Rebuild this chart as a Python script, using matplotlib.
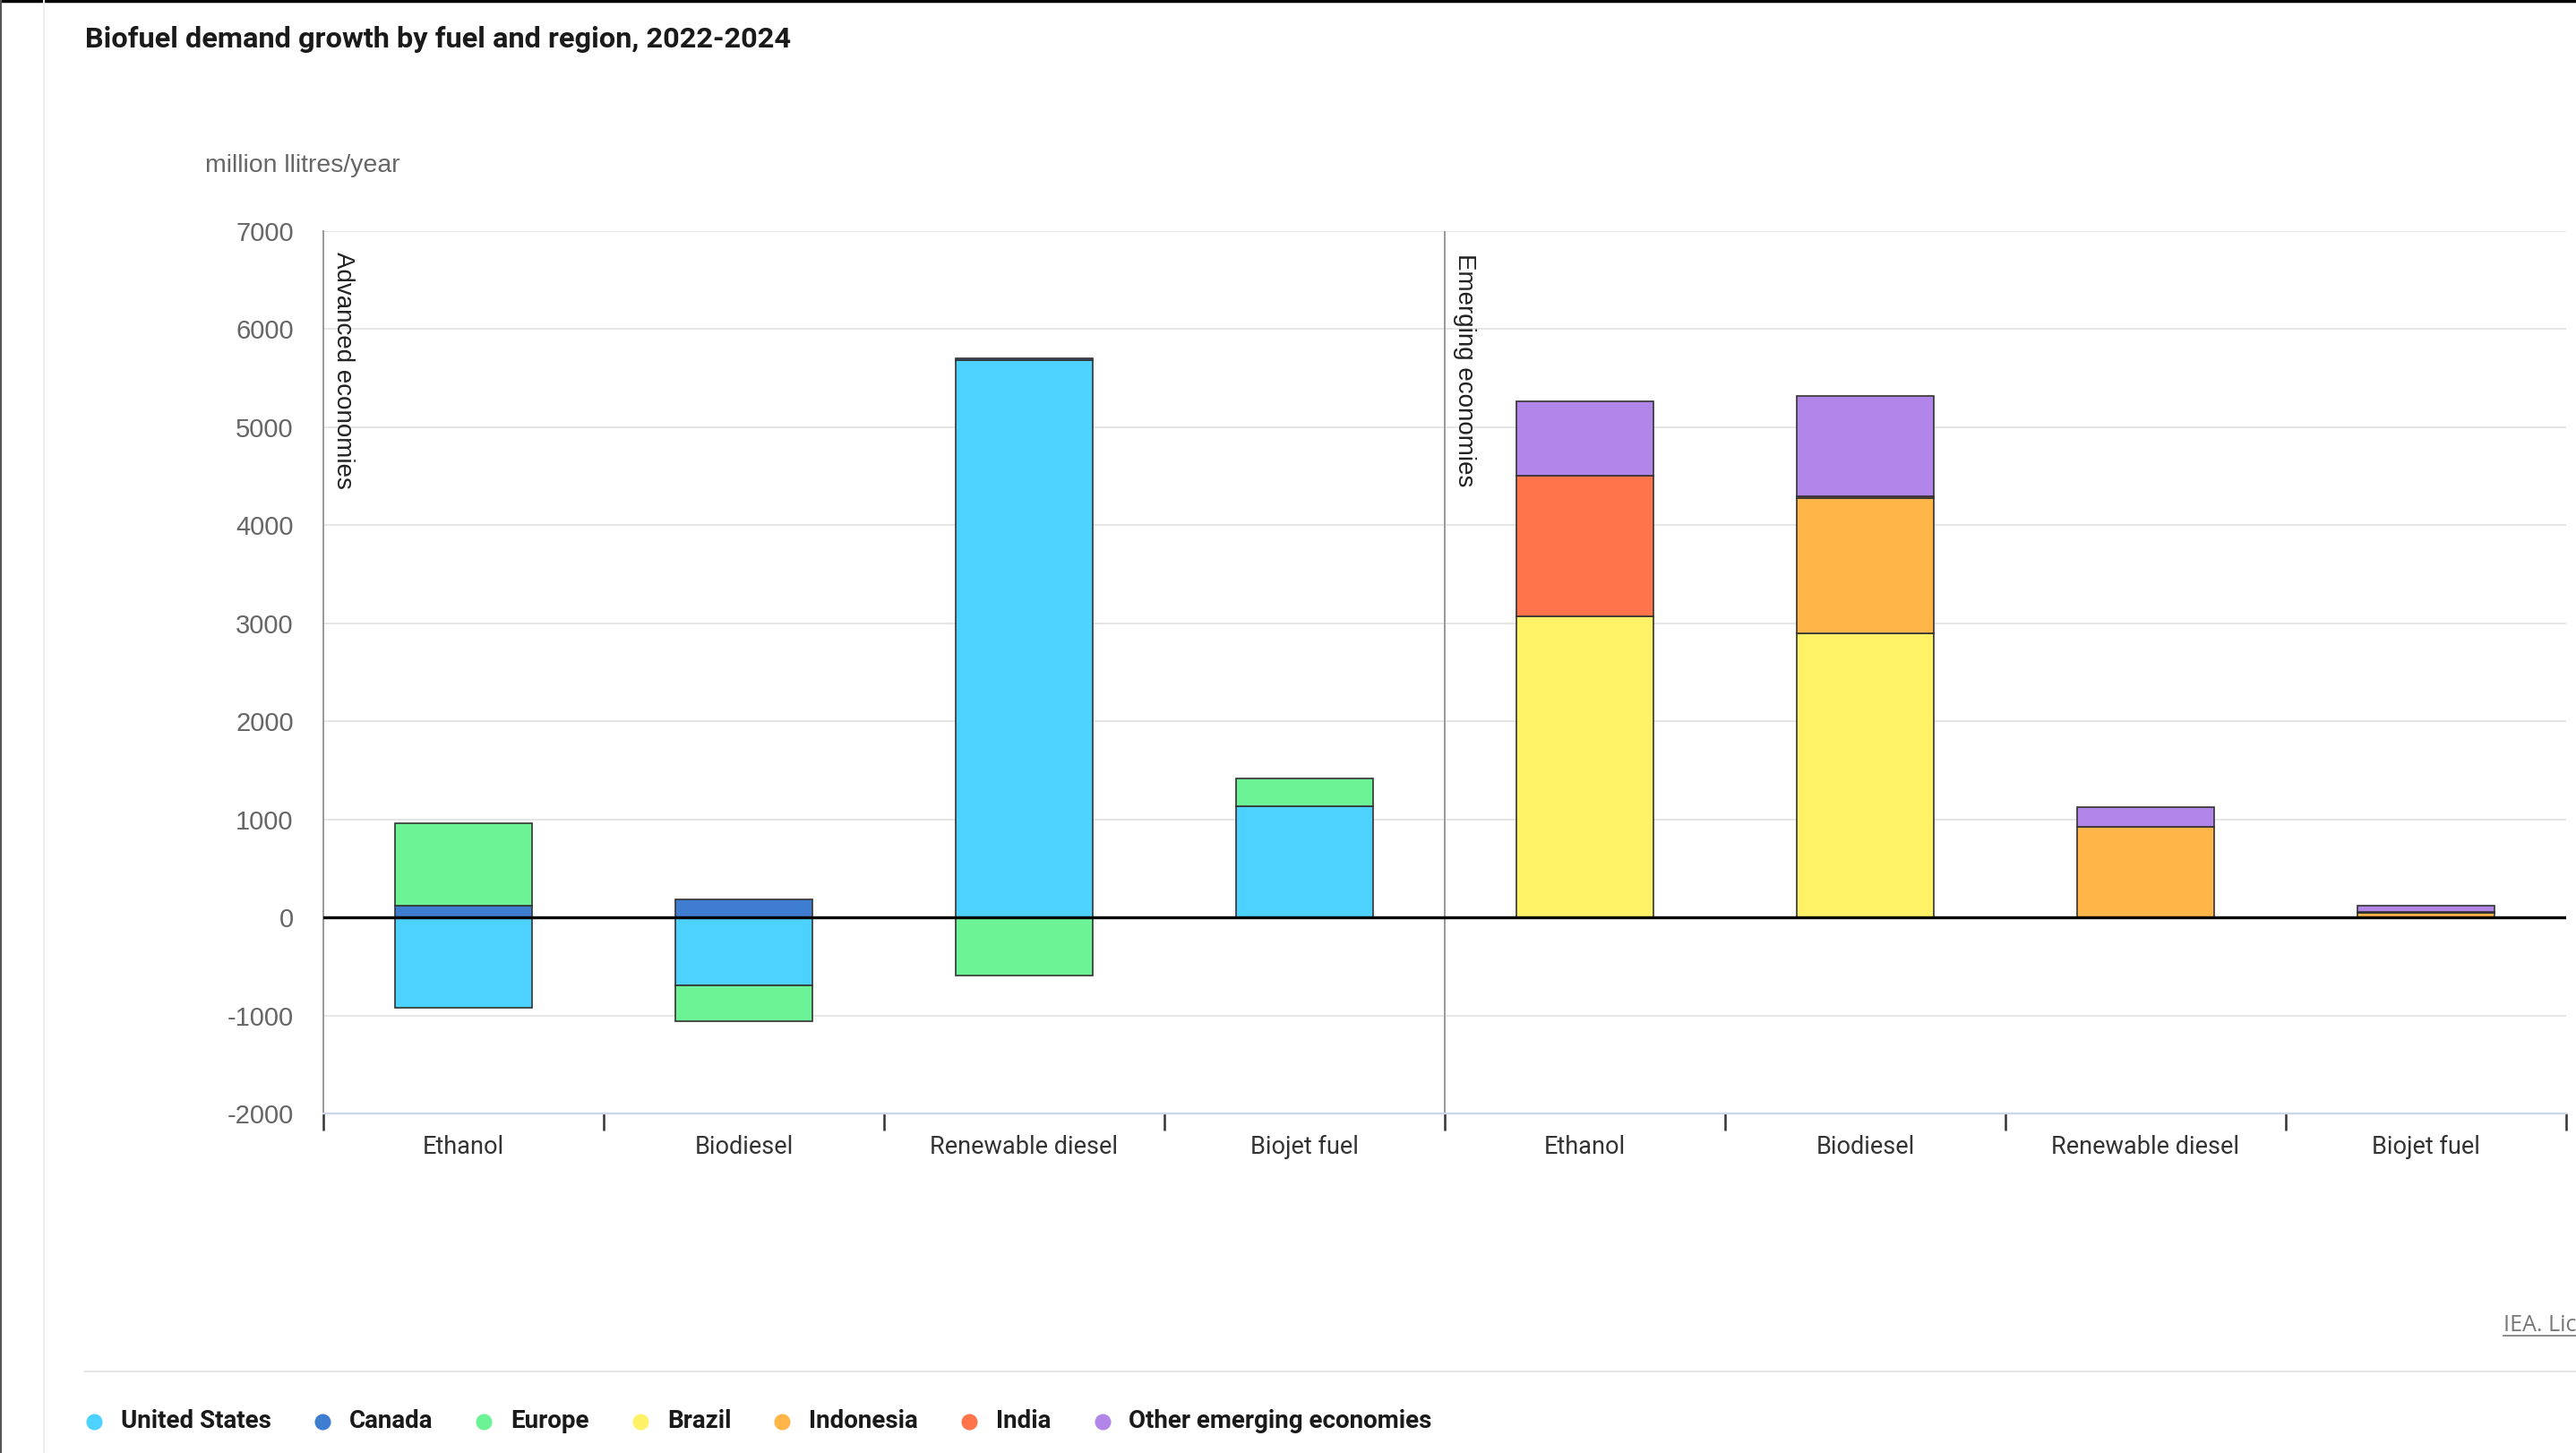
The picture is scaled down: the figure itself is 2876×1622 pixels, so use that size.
import numpy as np
import matplotlib
matplotlib.use('Agg')
import matplotlib.pyplot as plt
from matplotlib.lines import Line2D

# data (million litres/year)
categories = ["Ethanol", "Biodiesel", "Renewable diesel", "Biojet fuel",
              "Ethanol", "Biodiesel", "Renewable diesel", "Biojet fuel"]
united_states = [-920, -690, 5680, 1130, 0, 0, 0, 0]
canada = [120, 180, 20, 0, 0, 0, 0, 0]
europe = [840, -370, -590, 285, 0, 0, 0, 0]
brazil = [0, 0, 0, 0, 3070, 2900, 0, 0]
indonesia = [0, 0, 0, 0, 0, 1380, 920, 50]
india = [0, 0, 0, 0, 1440, 20, 0, 5]
other_emerging = [0, 0, 0, 0, 750, 1020, 205, 65]

series_names = ["United States", "Canada", "Europe", "Brazil", "Indonesia",
                "India", "Other emerging economies"]
series_values = [united_states, canada, europe, brazil, indonesia, india, other_emerging]
colors = ["#4dd2ff", "#3f7dd0", "#6bf396", "#fff266", "#ffb547", "#ff744b", "#b286e8"]

W, H, DPI = 2876, 1622, 100


def fx(px):
    return px / W


def fy(py):
    return 1 - py / H


fig = plt.figure(figsize=(W / DPI, H / DPI), dpi=DPI)
fig.patch.set_facecolor('white')

ax = fig.add_axes([fx(361), fy(1243), (2865 - 361) / W, (1243 - 258) / H])
ax.set_xlim(-0.5, 7.5)
ax.set_ylim(-2000, 7000)

x = np.arange(len(categories))
pos = np.zeros(len(categories))
neg = np.zeros(len(categories))
for vals, color in zip(series_values, colors):
    vals = np.array(vals, dtype=float)
    bottom = np.where(vals >= 0, pos, neg)
    mask = vals != 0
    ax.bar(x[mask], vals[mask], bottom=bottom[mask], width=0.49, color=color,
           edgecolor='#333333', linewidth=1.2, zorder=2)
    pos += np.clip(vals, 0, None)
    neg += np.clip(vals, None, 0)

# axes styling
ax.set_yticks(range(-2000, 7001, 1000))
ax.set_yticklabels([str(v) for v in range(-2000, 7001, 1000)])
ax.tick_params(axis='y', length=0, pad=24, labelsize=21, labelcolor='#666666')
for lab in ax.get_yticklabels():
    lab.set_fontfamily('Liberation Sans')

ax.set_xticks(x)
ax.set_xticklabels(categories)
ax.tick_params(axis='x', which='major', length=0, pad=17, labelsize=19.5, labelcolor='#333333')
for lab in ax.get_xticklabels():
    lab.set_fontfamily('Roboto')
ax.set_xticks(np.arange(-0.5, 8, 1), minor=True)
ax.tick_params(axis='x', which='minor', length=13.7, width=1.8, color='#333333', direction='out')

ax.yaxis.grid(True, color='#e6e6e6', linewidth=1.4)
ax.set_axisbelow(True)
for s in ['top', 'right']:
    ax.spines[s].set_visible(False)
ax.spines['left'].set_color('#999999')
ax.spines['left'].set_linewidth(1.4)
ax.spines['bottom'].set_color('#ccd6eb')
ax.spines['bottom'].set_linewidth(1.6)

ax.axhline(0, color='black', linewidth=2.4, zorder=4)
ax.axvline(3.5, color='#999999', linewidth=1.4, zorder=1)

ax.text(-0.47, 6790, "Advanced economies", rotation=270, ha='left', va='top',
        fontsize=20, family='Liberation Sans', color='#222222')
ax.text(3.53, 6772, "Emerging economies", rotation=270, ha='left', va='top',
        fontsize=20, family='Liberation Sans', color='#222222')

# title and unit
fig.text(fx(95), fy(53), "Biofuel demand growth by fuel and region, 2022-2024",
         fontsize=23.4, fontweight='bold', family='Roboto', va='baseline', color='#1a1a1a')
fig.text(fx(229), fy(192), "million llitres/year", fontsize=20.4, family='Liberation Sans',
         va='baseline', color='#666666')

# credit (cut off at the right edge, like the screenshot)
fig.text(fx(2795), fy(1486), "IEA. Licence: CC BY 4.0", fontsize=18, family='Open Sans',
         va='baseline', color='#777777')
fig.add_artist(Line2D([fx(2795), fx(2876)], [fy(1491), fy(1491)], color='#777777',
                      linewidth=1.2, transform=fig.transFigure))

# frame lines from the screenshot
fig.add_artist(Line2D([0, 1], [fy(1), fy(1)], color='black', linewidth=2.5,
                      transform=fig.transFigure))
fig.add_artist(Line2D([fx(1), fx(1)], [0, 1], color='#555555', linewidth=1.5,
                      transform=fig.transFigure))
fig.add_artist(Line2D([fx(49), fx(49)], [0, 1], color='#eeeeee', linewidth=1.5,
                      transform=fig.transFigure))
fig.add_artist(Line2D([fx(95), 1], [fy(1531), fy(1531)], color='#e6e6e6', linewidth=1.6,
                      transform=fig.transFigure))

# legend, laid out by hand
fig.canvas.draw()
renderer = fig.canvas.get_renderer()
lx = 105
ly = 1587
for name, color in zip(series_names, colors):
    fig.add_artist(Line2D([fx(lx)], [fy(ly)], marker='o', markersize=12, linestyle='none',
                          color=color, transform=fig.transFigure))
    t = fig.text(fx(lx + 30), fy(ly), name, fontsize=20, fontweight='bold', family='Roboto',
                 va='center', color='#1a1a1a')
    bb = t.get_window_extent(renderer)
    lx = bb.x1 + 57

fig.savefig('out.png', dpi=DPI)
